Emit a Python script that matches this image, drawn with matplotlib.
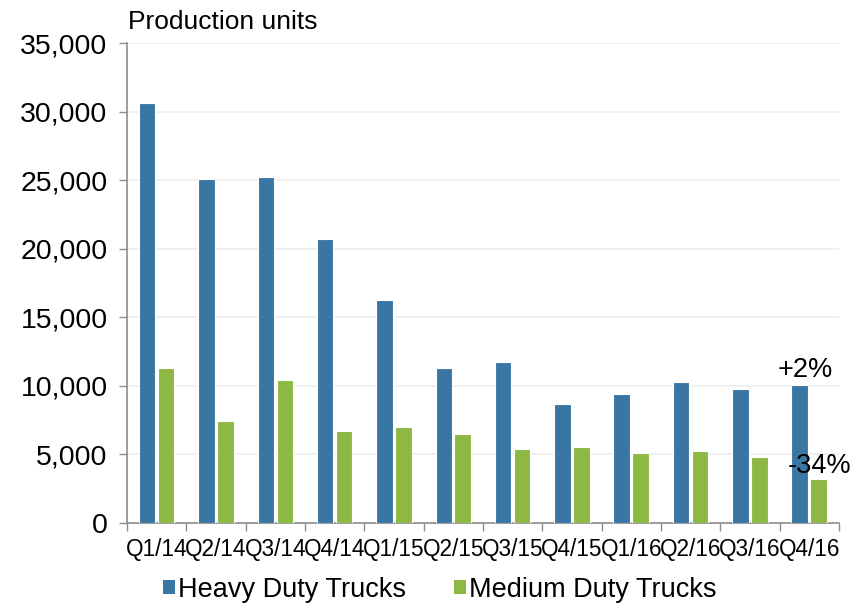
import matplotlib
matplotlib.use("Agg")
import matplotlib.pyplot as plt
from matplotlib.ticker import FuncFormatter, MultipleLocator, FixedLocator
from matplotlib.patches import Patch
import numpy as np

plt.rcParams['font.family'] = ['Liberation Sans', 'DejaVu Sans']

quarters = ["Q1/14", "Q2/14", "Q3/14", "Q4/14", "Q1/15", "Q2/15",
            "Q3/15", "Q4/15", "Q1/16", "Q2/16", "Q3/16", "Q4/16"]
heavy_duty = [30600, 25100, 25200, 20700, 16250, 11300,
              11750, 8700, 9400, 10300, 9800, 10050]
medium_duty = [11300, 7450, 10430, 6700, 7000, 6500,
               5400, 5540, 5100, 5250, 4800, 3200]
heavy_change = "+2%"
medium_change = "-34%"

BLUE = "#3A76A4"
GREEN = "#8DB843"
AXIS_GREY = "#8C8C8C"

fig = plt.figure(figsize=(8.64, 6.06), dpi=100)
ax = fig.add_axes([0.147, 0.137, 0.824, 0.792])

x = np.arange(len(quarters))
w = 0.28
off = 0.16
ax.bar(x - off, heavy_duty, width=w, color=BLUE, edgecolor="white", linewidth=0.8, zorder=3)
ax.bar(x + off, medium_duty, width=w, color=GREEN, edgecolor="white", linewidth=0.8, zorder=3)

ax.set_xlim(-0.5, len(quarters) - 0.5)
ax.set_ylim(0, 35000)
ax.yaxis.set_major_locator(MultipleLocator(5000))
ax.yaxis.set_major_formatter(FuncFormatter(lambda v, p: f"{int(v):,}"))
ax.grid(axis="y", color="#EEEEEE", linewidth=1.2, zorder=0)
ax.set_axisbelow(True)

ax.set_xticks(x)
ax.set_xticklabels(quarters, fontsize=16.3)
ax.tick_params(axis="x", which="major", length=0, pad=11)
ax.xaxis.set_minor_locator(FixedLocator(np.arange(-0.5, len(quarters), 1.0)))
ax.tick_params(axis="x", which="minor", length=6, color=AXIS_GREY, width=1)
ax.tick_params(axis="y", labelsize=20.5, length=6, color=AXIS_GREY, width=1, pad=8)

for s in ["top", "right"]:
    ax.spines[s].set_visible(False)
for s in ["left", "bottom"]:
    ax.spines[s].set_color(AXIS_GREY)
    ax.spines[s].set_linewidth(1.2)

fig.text(0.148, 0.963, "Production units", fontsize=19, ha="left", va="center")

ax.text(x[-1] - off + 0.09, heavy_duty[-1] + 150, heavy_change, fontsize=19.5,
        ha="center", va="bottom", zorder=5)
ax.text(x[-1] + 0.18, medium_duty[-1] + 20, medium_change, fontsize=19.5,
        ha="center", va="bottom", zorder=5)

handles = [Patch(facecolor=BLUE, label="Heavy Duty Trucks"),
           Patch(facecolor=GREEN, label="Medium Duty Trucks")]
fig.legend(handles=handles, loc="center", bbox_to_anchor=(0.509, 0.027), ncol=2,
           frameon=False, fontsize=19.5, handlelength=0.45, handleheight=0.45,
           handletextpad=0.12, columnspacing=1.75)

fig.savefig("out.png", dpi=100)
